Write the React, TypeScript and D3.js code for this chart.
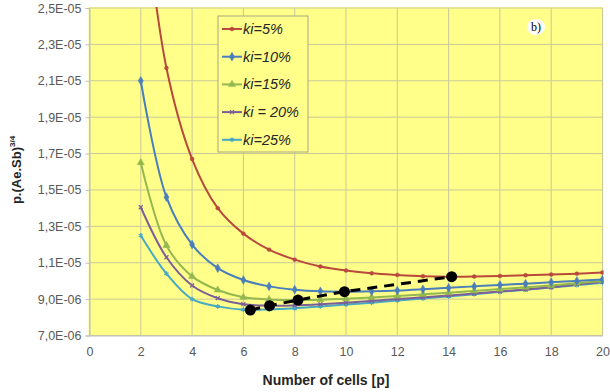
import { useEffect, useRef } from "react";
import * as d3 from "d3";

const cells = [2, 3, 4, 5, 6, 7, 8, 9, 10, 11, 12, 13, 14, 15, 16, 17, 18, 19, 20];

// values in units of 1E-06
const ki5 = [32.0, 21.7, 16.7, 14.0, 12.6, 11.72, 11.17, 10.79, 10.57, 10.42, 10.33, 10.26, 10.23, 10.24, 10.27, 10.31, 10.35, 10.4, 10.46];
const ki10 = [21.0, 14.6, 12.0, 10.7, 10.05, 9.7, 9.52, 9.43, 9.41, 9.43, 9.47, 9.54, 9.62, 9.7, 9.78, 9.85, 9.93, 10.0, 10.08];
const ki15 = [16.5, 11.95, 10.25, 9.5, 9.1, 8.98, 8.95, 8.97, 9.02, 9.09, 9.17, 9.26, 9.35, 9.45, 9.55, 9.65, 9.75, 9.87, 10.0];
const ki20 = [14.05, 11.3, 9.75, 9.05, 8.72, 8.64, 8.66, 8.72, 8.8, 8.9, 9.0, 9.1, 9.2, 9.31, 9.42, 9.53, 9.65, 9.8, 9.95];
const ki25 = [12.5, 10.4, 9.0, 8.6, 8.42, 8.43, 8.5, 8.6, 8.7, 8.8, 8.92, 9.03, 9.15, 9.27, 9.4, 9.52, 9.64, 9.77, 9.9];

const optCells = [6.27, 7.02, 8.13, 9.94, 14.12];
const optValues = [8.4, 8.64, 8.95, 9.41, 10.23];

const seriesNames = ["ki=5%", "ki=10%", "ki=15%", "ki = 20%", "ki=25%"];
const seriesValues = [ki5, ki10, ki15, ki20, ki25];
const seriesColors = ["#B9493C", "#4A7EBB", "#93B84F", "#7D5F97", "#47A9C4"];

const xTicks = [0, 2, 4, 6, 8, 10, 12, 14, 16, 18, 20];
const yTicks = [7, 9, 11, 13, 15, 17, 19, 21, 23, 25];

const fmtY = (v: number) => {
  const e = (v * 1e-6).toExponential(1); // e.g. "2.5e-5"
  const [m, ex] = e.split("e");
  const n = parseInt(ex, 10);
  const sign = n < 0 ? "-" : "+";
  const abs = Math.abs(n).toString().padStart(2, "0");
  return `${m.replace(".", ",")}E${sign}${abs}`;
};

export default function App() {
  const ref = useRef<SVGSVGElement | null>(null);

  useEffect(() => {
    const width = 610;
    const height = 392;
    const left = 89.5, right = 602.5, top = 8, bottom = 335.5;

    const svg = d3.select(ref.current);
    svg.selectAll("*").remove();
    svg.attr("width", width).attr("height", height);

    svg.append("rect").attr("width", width).attr("height", height).attr("fill", "#ffffff");

    const x = d3.scaleLinear().domain([0, 20]).range([left, right]);
    const y = d3.scaleLinear().domain([7, 25]).range([bottom, top]);

    // plot area
    svg.append("rect")
      .attr("x", left - 1)
      .attr("y", top - 1)
      .attr("width", right - left + 2)
      .attr("height", bottom - top + 1)
      .attr("fill", "#FFFF8A");

    svg.append("clipPath").attr("id", "plotclip")
      .append("rect")
      .attr("x", left - 1)
      .attr("y", top - 1)
      .attr("width", right - left + 2)
      .attr("height", bottom - top + 1);

    // gridlines
    svg.append("g")
      .selectAll("line")
      .data(yTicks)
      .enter()
      .append("line")
      .attr("x1", left)
      .attr("x2", right)
      .attr("y1", d => y(d))
      .attr("y2", d => y(d))
      .attr("stroke", "#C9C99A")
      .attr("stroke-width", 1);

    svg.append("g")
      .selectAll("line")
      .data(xTicks)
      .enter()
      .append("line")
      .attr("x1", d => x(d))
      .attr("x2", d => x(d))
      .attr("y1", top)
      .attr("y2", bottom)
      .attr("stroke", "#C9C99A")
      .attr("stroke-width", 1);

    // axes
    const yAxis = svg.append("g")
      .attr("transform", `translate(${left},0)`)
      .call(d3.axisLeft(y).tickValues(yTicks).tickFormat(d => fmtY(d as number)).tickSize(4).tickPadding(4));
    const xAxis = svg.append("g")
      .attr("transform", `translate(0,${bottom})`)
      .call(d3.axisBottom(x).tickValues(xTicks).tickSize(0).tickPadding(12));
    [yAxis, xAxis].forEach(a => {
      a.select(".domain").attr("stroke", "#BDBDBD");
      a.selectAll(".tick line").attr("stroke", "#BDBDBD");
      a.selectAll("text")
        .attr("fill", "#595959")
        .style("font-family", "'Liberation Sans', Arial, sans-serif")
        .style("font-size", "12.5px");
    });

    // series
    const line = d3.line<number>()
      .x((_, i) => x(cells[i]))
      .y(d => y(d))
      .curve(d3.curveCatmullRom.alpha(0.5));

    const plot = svg.append("g").attr("clip-path", "url(#plotclip)");

    const symbols = [d3.symbolCircle, d3.symbolDiamond, d3.symbolTriangle, d3.symbolTimes, d3.symbolAsterisk];
    const symSizes = [12, 22, 22, 12, 16];

    const drawMarker = (g: any, i: number, cx: number, cy: number) => {
      const stroked = i >= 3;
      g.append("path")
        .attr("d", d3.symbol().type(symbols[i]).size(symSizes[i])())
        .attr("transform", `translate(${cx},${cy})`)
        .attr("fill", stroked ? "none" : seriesColors[i])
        .attr("stroke", seriesColors[i])
        .attr("stroke-width", stroked ? 1.2 : 0.5);
    };

    // draw lower series first
    [4, 3, 2, 1, 0].forEach(i => {
      plot.append("path")
        .datum(seriesValues[i])
        .attr("d", line)
        .attr("fill", "none")
        .attr("stroke", seriesColors[i])
        .attr("stroke-width", 2);
      seriesValues[i].forEach((v, j) => drawMarker(plot, i, x(cells[j]), y(v)));
    });

    // optimum points
    const optLine = d3.line<number>()
      .x((_, i) => x(optCells[i]))
      .y(d => y(d));
    plot.append("path")
      .datum(optValues)
      .attr("d", optLine)
      .attr("fill", "none")
      .attr("stroke", "#000")
      .attr("stroke-width", 3)
      .attr("stroke-dasharray", "10,7");
    plot.selectAll(".opt")
      .data(optValues)
      .enter()
      .append("circle")
      .attr("cx", (_, i) => x(optCells[i]))
      .attr("cy", d => y(d))
      .attr("r", 5.5)
      .attr("fill", "#000");

    // legend
    const lg = svg.append("g").attr("transform", "translate(218,16)");
    lg.append("rect")
      .attr("width", 90)
      .attr("height", 136)
      .attr("fill", "#FFFF8A")
      .attr("stroke", "#A8A880")
      .attr("stroke-width", 1);
    seriesNames.forEach((name, i) => {
      const ly = 13 + i * 27.7;
      lg.append("line")
        .attr("x1", 4)
        .attr("x2", 24)
        .attr("y1", ly)
        .attr("y2", ly)
        .attr("stroke", seriesColors[i])
        .attr("stroke-width", 2);
      drawMarker(lg, i, 14, ly);
      lg.append("text")
        .attr("x", 25)
        .attr("y", ly + 5)
        .text(name)
        .attr("fill", "#262626")
        .style("font-family", "'Liberation Sans', Arial, sans-serif")
        .style("font-style", "italic")
        .style("font-size", "14.5px");
    });

    // b) label
    svg.append("ellipse")
      .attr("cx", 536)
      .attr("cy", 27)
      .attr("rx", 9)
      .attr("ry", 8)
      .attr("fill", "#ffffff");
    svg.append("text")
      .attr("x", 536)
      .attr("y", 31)
      .attr("text-anchor", "middle")
      .text("b)")
      .style("font-family", "'Liberation Serif', 'Times New Roman', serif")
      .style("font-size", "12px")
      .attr("fill", "#000");

    // x-axis label
    svg.append("text")
      .attr("x", 326)
      .attr("y", 385)
      .attr("text-anchor", "middle")
      .text("Number of cells [p]")
      .attr("fill", "#262626")
      .style("font-family", "'Liberation Sans', Arial, sans-serif")
      .style("font-weight", "bold")
      .style("font-size", "14px");

    // y-axis label
    const yl = svg.append("text")
      .attr("text-anchor", "middle")
      .attr("transform", "translate(21,170) rotate(-90)")
      .attr("fill", "#262626")
      .style("font-family", "'Liberation Sans', Arial, sans-serif")
      .style("font-weight", "bold")
      .style("font-size", "13px");
    yl.append("tspan").text("p.(Ae.Sb)");
    yl.append("tspan").attr("dy", -6).style("font-size", "8px").text("3/4");
  }, []);

  return <svg ref={ref} style={{ position: "absolute", left: 0, top: 0 }} />;
}
